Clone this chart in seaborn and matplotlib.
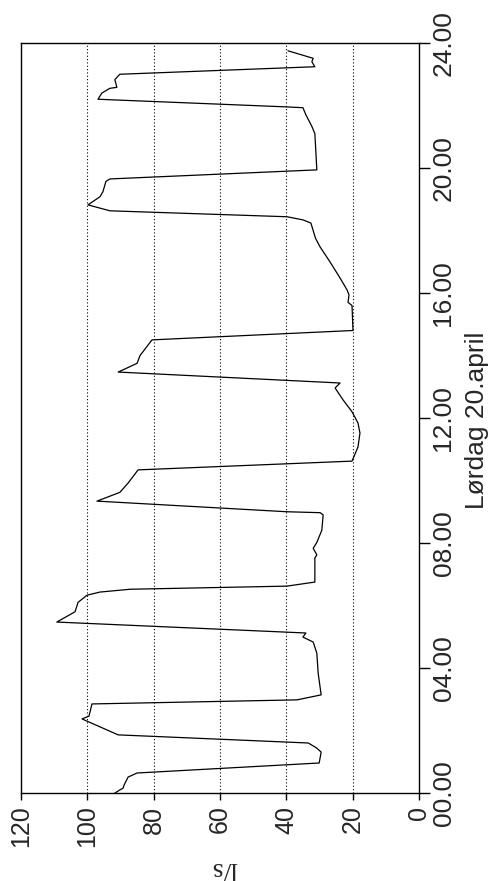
import matplotlib
matplotlib.use("Agg")
import matplotlib.pyplot as plt
import seaborn as sns
import pandas as pd

# time of day (hours) and flow (l/s)
hours = [0.00, 0.16, 0.26, 0.51, 0.64, 0.96, 1.31, 1.45, 1.60, 1.86, 2.37, 2.46, 2.85,
         2.98, 3.14, 3.83, 4.47, 4.83, 4.99, 5.12, 5.47, 5.80, 6.10, 6.33, 6.43, 6.52,
         6.62, 6.75, 7.52, 7.62, 7.83, 8.02, 8.41, 8.90, 8.97, 9.00, 9.34, 9.62, 9.92,
         10.34, 10.62, 11.07, 11.52, 11.84, 12.20, 12.58, 12.96, 13.12, 13.47, 13.75,
         14.00, 14.50, 14.80, 15.60, 15.70, 15.94, 16.10, 16.48, 16.99, 17.47, 17.75,
         18.24, 18.34, 18.44, 18.63, 18.82, 19.08, 19.24, 19.57, 19.65, 19.94, 21.10,
         21.33, 21.70, 21.93, 21.96, 22.20, 22.40, 22.55, 22.58, 22.83, 23.00, 23.24,
         23.40, 23.51, 23.75]
flow = [91.7, 89.2, 88.9, 87.7, 85.0, 30.1, 29.5, 31.0, 33.4, 90.7, 101.6, 99.5, 98.6,
        36.8, 29.5, 30.4, 30.8, 31.9, 35.0, 34.1, 109.2, 103.7, 102.8, 100.1, 96.2, 87.1,
        39.8, 31.4, 31.4, 30.8, 31.9, 30.8, 29.3, 28.9, 29.8, 39.8, 97.1, 90.2, 87.7,
        84.7, 20.2, 18.4, 17.8, 18.4, 20.2, 22.9, 25.3, 23.8, 90.7, 85.0,
        84.1, 80.5, 19.9, 20.2, 21.4, 21.1, 21.7, 23.8, 26.8, 29.8, 31.2,
        32.6, 35.0, 39.8, 93.2, 99.8, 96.2, 95.3, 94.4, 93.2, 30.8, 31.4,
        32.3, 34.1, 35.0, 41.0, 96.8, 95.6, 93.2, 91.1, 91.7, 90.2, 31.4,
        32.3, 31.9, 39.5]

value_ticks = [0, 20, 40, 60, 80, 100, 120]
time_ticks = [0, 4, 8, 12, 16, 20, 24]
time_labels = ["00.00", "04.00", "08.00", "12.00", "16.00", "20.00", "24.00"]
x_title = "Lørdag 20.april"
y_title = "l/s"

sns.set_style("white")
plt.rcParams["font.family"] = ["Liberation Sans", "DejaVu Sans"]

df = pd.DataFrame({"hour": hours, "flow": flow})

fig = plt.figure(figsize=(4.95, 8.81), dpi=100)
ax = fig.add_axes([21 / 495, 88 / 881, 398 / 495, 750 / 881])

sns.lineplot(data=df, x="flow", y="hour", sort=False, estimator=None,
             color="black", linewidth=0.9, ax=ax)

ax.set_xlim(120, 0)
ax.set_ylim(0, 24)

for v in value_ticks[1:-1]:
    ax.axvline(v, color="black", linewidth=0.8, linestyle=(0, (1, 2)), zorder=0)

for s in ax.spines.values():
    s.set_color("black")
    s.set_linewidth(1.0)

ax.set_xticks(value_ticks)
ax.set_xticklabels([str(v) for v in value_ticks], rotation=90, fontsize=18)
ax.set_yticks(time_ticks)
ax.set_yticklabels(time_labels, rotation=90, fontsize=19, va="center")
ax.yaxis.tick_right()
ax.tick_params(axis="x", direction="out", length=5, width=1, pad=4,
               bottom=True, top=False, color="black")
ax.tick_params(axis="y", direction="out", length=8, width=1, pad=1,
               right=True, left=False, color="black")

ax.set_xlabel("")
ax.set_ylabel("")

fig.text(477 / 495, 1 - 420 / 881, x_title, rotation=90, fontsize=19,
         ha="center", va="center")
fig.text(224 / 495, 1 - 868 / 881, y_title, rotation=180, fontsize=20,
         family="Liberation Serif", ha="center", va="center")

fig.savefig("out.png", dpi=100)
